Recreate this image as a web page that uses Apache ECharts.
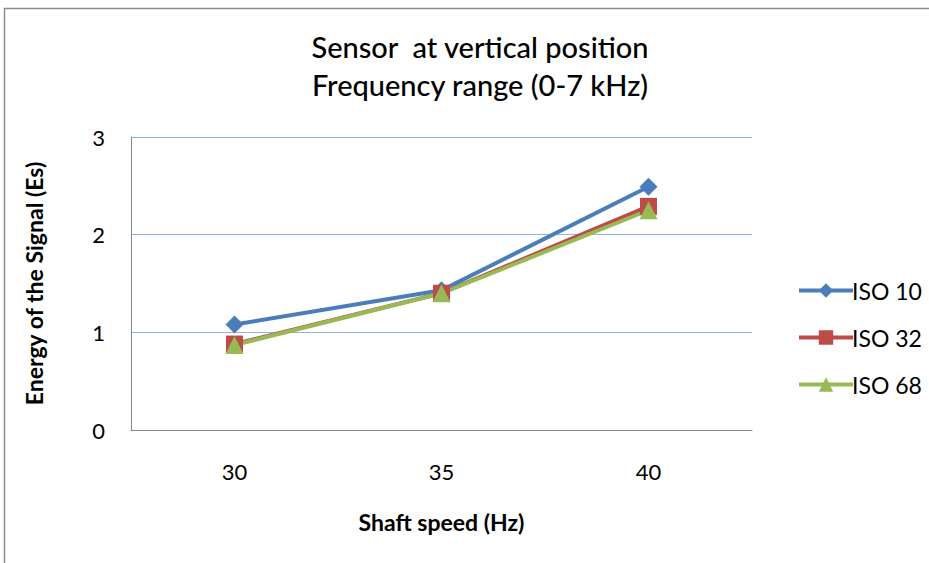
<!DOCTYPE html>
<html>
<head>
<meta charset="utf-8">
<script src="https://cdn.jsdelivr.net/npm/echarts@6/dist/echarts.min.js"></script>
<style>html,body{margin:0;padding:0;background:#fff}#main{width:929px;height:563px}</style>
</head>
<body>
<div id="main"></div>
<script>
var categories = ['30', '35', '40'];
var iso10 = [1.08, 1.43, 2.49];
var iso32 = [0.88, 1.40, 2.29];
var iso68 = [0.87, 1.40, 2.25];

var chartDom = document.getElementById('main');
var myChart = echarts.init(chartDom, null, { renderer: 'svg' });
var font = 'Lato, "Open Sans", sans-serif';

function line(name, data, color, symbol, size) {
    return {
        name: name,
        type: 'line',
        data: data,
        symbol: symbol,
        symbolSize: size,
        lineStyle: { width: 4, color: color },
        itemStyle: { color: color },
        emphasis: { disabled: true }
    };
}

var option = {
    animation: false,
    textStyle: { fontFamily: font },
    graphic: [{
        type: 'rect',
        shape: { x: 4.5, y: 8.5, width: 940, height: 580 },
        style: { fill: 'none', stroke: '#8c8c8c', lineWidth: 1.5 },
        silent: true
    }],
    title: {
        text: 'Sensor  at vertical position\nFrequency range (0-7 kHz)',
        left: 475,
        top: 22,
        textAlign: 'center',
        textStyle: { fontSize: 29, fontWeight: 500, color: '#000', lineHeight: 38, fontFamily: font }
    },
    legend: {
        orient: 'vertical',
        left: 792,
        top: 274,
        itemWidth: 54,
        itemHeight: 18,
        itemGap: 24,
        lineStyle: { width: 4 },
        textStyle: { fontSize: 23, color: '#000', fontFamily: font, padding: [0, 0, 0, -6] },
        data: ['ISO 10', 'ISO 32', 'ISO 68']
    },
    grid: { left: 131, top: 137, width: 621, height: 293 },
    xAxis: {
        type: 'category',
        data: categories,
        name: 'Shaft speed (Hz)',
        nameLocation: 'middle',
        nameGap: 80,
        nameTextStyle: { fontSize: 23, fontWeight: 'bold', color: '#000' },
        axisLine: { lineStyle: { color: '#868686', width: 1 } },
        axisTick: { show: false },
        axisLabel: { fontSize: 22, color: '#000', margin: 30 }
    },
    yAxis: {
        type: 'value',
        min: 0,
        max: 3,
        interval: 1,
        name: 'Energy of the Signal (Es)',
        nameLocation: 'middle',
        nameGap: 86,
        nameTextStyle: { fontSize: 23, fontWeight: 'bold', color: '#000' },
        axisLine: { show: true, lineStyle: { color: '#868686', width: 1 } },
        axisTick: { show: false },
        axisLabel: { fontSize: 22, color: '#000', margin: 26 },
        splitLine: { lineStyle: { color: '#8eb4e3', width: 1 } }
    },
    series: [
        line('ISO 10', iso10, '#4a7ebb', 'diamond', 18),
        line('ISO 32', iso32, '#be4b48', 'rect', 17),
        line('ISO 68', iso68, '#98b954', 'triangle', 18)
    ]
};
option && myChart.setOption(option);
</script>
</body>
</html>
